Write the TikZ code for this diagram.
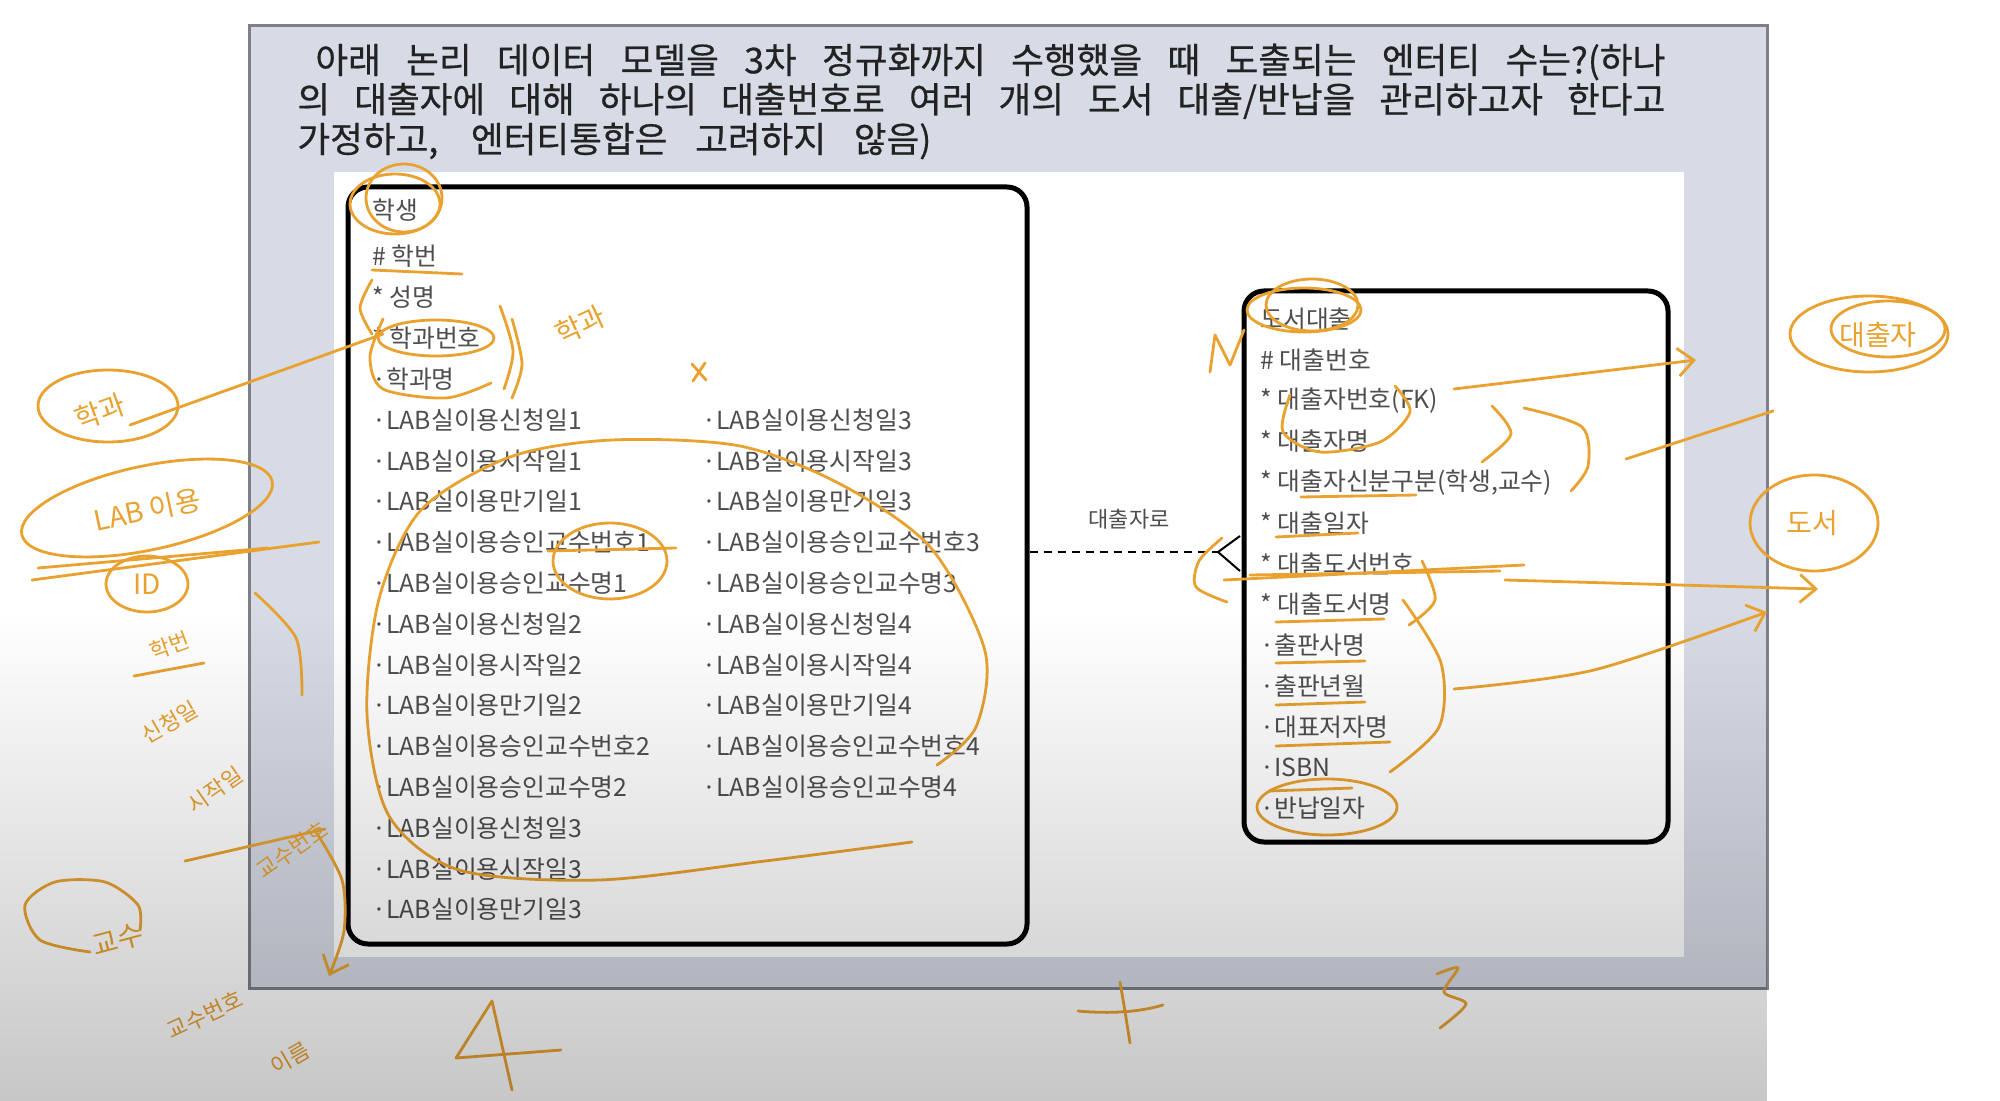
\documentclass[tikz,border=0pt]{standalone}
\usepackage{fontspec}
\setmainfont{Noto Sans CJK KR}
\newfontfamily\qfamily{Noto Sans CJK KR}[FakeBold=0.5]
\usepackage{xcolor}
\usetikzlibrary{arrows.meta,calc,fadings}
\definecolor{slidebg}{RGB}{214,219,230}
\definecolor{slideedge}{RGB}{125,128,136}
\definecolor{attrgray}{RGB}{78,78,78}
\definecolor{qgray}{RGB}{34,34,34}
\definecolor{penorange}{RGB}{233,162,48}
\newcommand\qfont{\qfamily\fontsize{17.8}{20}\selectfont}
\newcommand\afont{\fontsize{12.4}{14}\selectfont}
\newcommand\rfont{\fontsize{11}{13}\selectfont}
\newcommand\hfont{\fontsize{14}{15}\selectfont}
\newcommand\hsfont{\fontsize{11}{12}\selectfont}
\tikzset{
  slideframe/.style={fill=slidebg, draw=slideedge, line width=1.5pt},
  qline/.style={anchor=west, inner sep=0pt, font=\qfont, text=qgray},
  entity/.style={draw=black, line width=2.5pt, rounded corners=10pt, inner sep=0pt},
  attr/.style={anchor=west, inner sep=0pt, font=\afont, text=attrgray},
  rel/.style={dash pattern=on 4pt off 3pt, line width=1pt},
  foot/.style={line width=1pt},
  rellbl/.style={font=\rfont, text=attrgray, inner sep=0pt},
  pen/.style={draw=penorange, line width=1.4pt, line cap=round, line join=round},
  penarrow/.style={pen, -{Straight Barb[length=8pt, width=14pt]}},
  hand/.style={text=penorange, font=\hfont, inner sep=0pt},
  handsmall/.style={hand, font=\hsfont},
}

\begin{document}
\begin{tikzpicture}[x=0.5pt, y=-0.5pt]
  \useasboundingbox (0,0) rectangle (2000,1101);
  \fill[white] (0,0) rectangle (2000,1101);
  % slide and panel
  \draw[slideframe] (249,26) rectangle (1767,988);
  \fill[white] (334,172) rectangle (1684,957);

  % question
  \node[qline] (q1) at (297,62) {\makebox[684pt][s]{\hspace*{9pt}아래 논리 데이터 모델을 3차 정규화까지 수행했을 때 도출되는 엔터티 수는?(하나}};
  \node[qline] (q2) at (297,101) {\makebox[684pt][s]{의 대출자에 대해 하나의 대출번호로 여러 개의 도서 대출/반납을 관리하고자 한다고}};
  \node[qline] (q3) at (297,141) {\makebox[317pt][s]{가정하고, 엔터티통합은 고려하지 않음)}};

  % entities
  \node[entity, minimum width=339.5pt, minimum height=378.5pt] (student) at (687.5,565.5) {};
  \node[entity, minimum width=212pt, minimum height=275.5pt] (loan) at (1456,566.5) {};

  \node[attr] (s-title) at (372,210) {학생};
  \node[attr] (s-id)    at (372,256) {\# 학번};
  \node[attr] (s-name)  at (372,297) {* 성명};
  \node[attr] (s-dno)   at (372,338) {* 학과번호};
  \node[attr] (s-dname) at (372,379) {·학과명};
  \foreach \t [count=\i from 0] in {LAB실이용신청일1, LAB실이용시작일1, LAB실이용만기일1,
      LAB실이용승인교수번호1, LAB실이용승인교수명1, LAB실이용신청일2, LAB실이용시작일2,
      LAB실이용만기일2, LAB실이용승인교수번호2, LAB실이용승인교수명2, LAB실이용신청일3,
      LAB실이용시작일3, LAB실이용만기일3}
    \node[attr] (s-a\i) at (372,{420+40.8*\i}) {·\t};
  \foreach \t [count=\i from 0] in {LAB실이용신청일3, LAB실이용시작일3, LAB실이용만기일3,
      LAB실이용승인교수번호3, LAB실이용승인교수명3, LAB실이용신청일4, LAB실이용시작일4,
      LAB실이용만기일4, LAB실이용승인교수번호4, LAB실이용승인교수명4}
    \node[attr] (s-b\i) at (702,{420+40.8*\i}) {·\t};

  \foreach \t [count=\i from 0] in {도서대출, \# 대출번호, * 대출자번호(FK), * 대출자명,
      {* 대출자신분구분(학생,교수)}, * 대출일자, * 대출도서번호, * 대출도서명,
      ·출판사명, ·출판년월, ·대표저자명, ·ISBN, ·반납일자}
    \node[attr] (l-a\i) at (1260,{319+40.8*\i}) {\t};

  % relationship
  \coordinate (crow) at (1218,552);
  \draw[rel] (student.east |- crow) -- (crow);
  \draw[foot] ($(crow)+(22,-16)$) -- (crow) -- ($(crow)+(22,19)$);
  \node[rellbl] (r-lbl) at (1129,519) {대출자로};

  % pen marks, student side
  \draw[pen] (395,204) ellipse [x radius=45, y radius=30];
  \draw[pen] (404,198) ellipse [x radius=38, y radius=34];
  \draw[pen] (372,270) -- (462,274);
  \draw[pen] plot[smooth] coordinates {(372,280) (360,308) (372,334)};
  \draw[pen] (436,338) ellipse [x radius=58, y radius=18];
  \draw[pen] plot[smooth] coordinates {(383,319) (370,357) (383,389) (446,398) (491,383)};
  \draw[pen] plot[smooth] coordinates {(500,306) (513,351) (504,389)};
  \draw[pen] plot[smooth] coordinates {(512,319) (522,364) (512,398)};
  \node[hand, rotate=25] (h-dept2) at (580,325) {학과};
  \draw[pen] (692,364) -- (706,380) (705,363) -- (693,381);
  \draw[pen] plot[smooth] coordinates {(912,842) (765,861) (599,880) (459,870) (389,816)
      (367,714) (379,599) (421,510) (510,457) (612,440) (740,446) (842,485) (931,548)
      (985,651) (976,727) (937,765)};
  \draw[pen] (610,561) ellipse [x radius=57, y radius=38];
  \draw[pen] (548,551) -- (676,548);

  % pen marks, left margin
  \draw[pen] (108,406) ellipse [x radius=70, y radius=36];
  \node[hand, rotate=20] (h-dept) at (100,412) {학과};
  \draw[pen] (130,425) -- (383,334);
  \draw[pen, rotate around={12:(147,508)}] (147,508) ellipse [x radius=128, y radius=42];
  \node[hand, rotate=12] (h-lab) at (147,510) {LAB 이용};
  \draw[pen] (32,580) -- (319,542);
  \draw[pen] (38,568) -- (268,548);
  \draw[pen] (147,584) ellipse [x radius=41, y radius=28];
  \node[hand] (h-id) at (147,584) {ID};
  \node[handsmall, rotate=20] (h-sid) at (170,646) {학번};
  \draw[pen] (134,676) -- (204,663);
  \draw[pen] plot[smooth] coordinates {(255,593) (296,638) (302,695)};
  \node[handsmall, rotate=30] (h-req) at (170,722) {신청일};
  \node[handsmall, rotate=35] (h-start) at (215,790) {시작일};
  \node[handsmall, rotate=35] (h-prof) at (292,850) {교수번호};
  \draw[pen] (185,861) -- (325,829);
  \draw[penarrow] plot[smooth] coordinates {(316,832) (342,880) (344,931) (329,976)};
  \draw[pen] plot[smooth] coordinates {(90,952) (40,940) (25,905) (55,882) (105,882) (138,905) (140,930)};
  \node[hand, rotate=15] (h-prof2) at (118,940) {교수};
  \node[handsmall, rotate=25] (h-profno) at (205,1015) {교수번호};
  \node[handsmall, rotate=30] (h-pname) at (290,1058) {이름};

  % pen marks, count
  \draw[pen] (492,1001) -- (456,1058) -- (561,1050);
  \draw[pen] (492,1001) -- (512,1090);
  \draw[pen] (1078,1011) .. controls (1110,1014) and (1140,1012) .. (1163,1005);
  \draw[pen] (1120,982) .. controls (1124,1005) .. (1130,1043);
  \draw[pen] plot[smooth] coordinates {(1437,974) (1458,968) (1444,992) (1466,1004) (1440,1028)};

  % pen marks, loan side
  \draw[pen] (1304,310) ellipse [x radius=57, y radius=22];
  \draw[pen] (1312,305) ellipse [x radius=46, y radius=26];
  \draw[pen] plot coordinates {(1210,372) (1215,335) (1230,365) (1244,330)};
  \draw[pen] plot[smooth] coordinates {(1290,395) (1283,432) (1320,452) (1380,442) (1410,412) (1395,386)};
  \draw[penarrow] (1454,389) -- (1696,360);
  \draw[pen] plot[smooth] coordinates {(1492,406) (1511,434) (1482,462)};
  \draw[pen] plot[smooth] coordinates {(1524,408) (1582,427) (1588,466) (1571,491)};
  \draw[pen] (1626,459) -- (1773,411);
  \draw[pen] (1869,334) ellipse [x radius=79, y radius=38];
  \draw[pen] (1888,329) ellipse [x radius=57, y radius=28];
  \node[hand] (h-loaner) at (1878,335) {대출자};
  \draw[pen] (1814,523) ellipse [x radius=64, y radius=48];
  \node[hand] (h-book) at (1812,523) {도서};
  \draw[pen] (1301,497) -- (1416,495);
  \draw[pen] (1276,537) -- (1358,533);
  \draw[pen] (1224,580) -- (1524,565);
  \draw[pen] (1250,575) -- (1500,571);
  \draw[penarrow] (1505,580) -- (1818,589);
  \draw[pen] plot[smooth] coordinates {(1222,538) (1199,561) (1196,587) (1227,602)};
  \draw[pen] plot[smooth] coordinates {(1422,561) (1435,600) (1409,625)};
  \draw[pen] (1276,622) -- (1384,619);
  \draw[pen] (1276,663) -- (1365,661);
  \draw[pen] (1276,705) -- (1365,702);
  \draw[pen] (1276,746) -- (1390,742);
  \draw[pen] (1269,791) -- (1352,788);
  \draw[pen] plot[smooth] coordinates {(1403,600) (1441,663) (1439,727) (1390,772)};
  \draw[penarrow] plot[smooth] coordinates {(1454,689) (1594,670) (1767,612)};
  \draw[pen] (1327,807) ellipse [x radius=70, y radius=28];

  % screen shading at the bottom
  \fill[black, opacity=0.22, path fading=north] (0,610) rectangle (1770,1101);
\end{tikzpicture}
\end{document}
